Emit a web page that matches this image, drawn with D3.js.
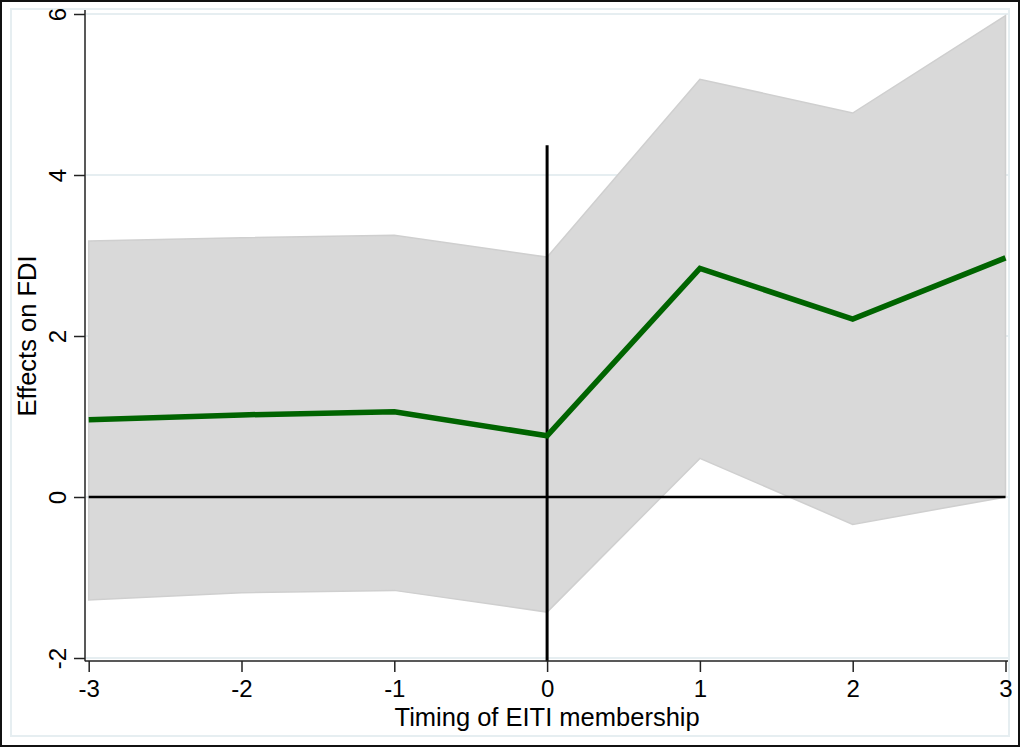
<!DOCTYPE html>
<html>
<head>
<meta charset="utf-8">
<script src="https://cdn.jsdelivr.net/npm/d3@7"></script>
<style>
  body { margin: 0; background: #fff; }
  text { font-family: "Liberation Sans", Arial, sans-serif; fill: #000; }
</style>
</head>
<body>
<svg id="chart" width="1020" height="747"></svg>
<script>
// event time relative to EITI membership
const timing = [-3, -2, -1, 0, 1, 2, 3];
const effect = [0.96, 1.02, 1.06, 0.76, 2.84, 2.21, 2.97];
const upper = [3.18, 3.22, 3.25, 2.98, 5.19, 4.77, 5.98];
const lower = [-1.28, -1.19, -1.16, -1.43, 0.48, -0.34, 0.0];
const yTicks = [-2, 0, 2, 4, 6];
const vlineRange = [-2.04, 4.37];

const svg = d3.select("#chart");
const W = 1020, H = 747;

// outer frame + graph region
svg.append("rect").attr("x", 1).attr("y", 1).attr("width", W - 2).attr("height", H - 2)
    .attr("fill", "#fff").attr("stroke", "#111").attr("stroke-width", 2);
svg.append("rect").attr("x", 11).attr("y", 9).attr("width", 998).attr("height", 727)
    .attr("fill", "none").attr("stroke", "#e6eef1").attr("stroke-width", 2);

const x = d3.scaleLinear().domain([-3, 3]).range([88.7, 1005.5]);
const y = d3.scaleLinear().domain([0, 6]).range([497, 14]);

const rows = timing.map((t, i) => ({t, e: effect[i], hi: upper[i], lo: lower[i]}));

// gridlines
svg.append("g").selectAll("line").data(yTicks).enter().append("line")
    .attr("x1", 86).attr("x2", 1008)
    .attr("y1", d => y(d)).attr("y2", d => y(d))
    .attr("stroke", "#e6eef1").attr("stroke-width", 2);

// confidence band
svg.append("path").datum(rows)
    .attr("d", d3.area().x(d => x(d.t)).y0(d => y(d.lo)).y1(d => y(d.hi)))
    .attr("fill", "#d9d9d9").attr("stroke", "#cfcfcf").attr("stroke-width", 1.5);

// reference lines
svg.append("line")
    .attr("x1", x(-3)).attr("x2", x(3)).attr("y1", y(0)).attr("y2", y(0))
    .attr("stroke", "#000").attr("stroke-width", 2.5);
svg.append("line")
    .attr("x1", x(0)).attr("x2", x(0)).attr("y1", y(vlineRange[0])).attr("y2", y(vlineRange[1]))
    .attr("stroke", "#000").attr("stroke-width", 3);

// estimate line
svg.append("path").datum(rows)
    .attr("d", d3.line().x(d => x(d.t)).y(d => y(d.e)))
    .attr("fill", "none").attr("stroke", "#006400").attr("stroke-width", 5.5)
    .attr("stroke-linejoin", "miter");

const fmt = d => String(d);

// y axis
const yAxis = svg.append("g").attr("transform", "translate(85,0)")
    .call(d3.axisLeft(y).tickValues(yTicks).tickSize(11).tickPadding(0).tickFormat(fmt));
yAxis.select(".domain").attr("d", "M0," + (y(-2.04)) + "V" + 10).attr("stroke", "#222").attr("stroke-width", 1.5);
yAxis.selectAll(".tick line").attr("stroke", "#222").attr("stroke-width", 1.5);
yAxis.selectAll(".tick text")
    .attr("x", 0).attr("y", 0).attr("dy", "0.36em")
    .attr("transform", "translate(-28,0) rotate(-90)")
    .attr("text-anchor", "middle")
    .style("font-size", "24px").style("font-family", "Liberation Sans, Arial, sans-serif");

// x axis
const xAxis = svg.append("g").attr("transform", "translate(0,661)")
    .call(d3.axisBottom(x).tickValues(timing).tickSize(11).tickPadding(8).tickFormat(fmt));
xAxis.select(".domain").attr("d", "M85,0H1008").attr("stroke", "#222").attr("stroke-width", 1.5);
xAxis.selectAll(".tick line").attr("stroke", "#222").attr("stroke-width", 1.5);
xAxis.selectAll(".tick text")
    .style("font-size", "24px").style("font-family", "Liberation Sans, Arial, sans-serif");

// axis titles
svg.append("text").attr("x", x(0)).attr("y", 726).attr("text-anchor", "middle")
    .style("font-size", "25.5px").text("Timing of EITI membership");
svg.append("text").attr("transform", "translate(36," + y(2.0) + ") rotate(-90)")
    .attr("text-anchor", "middle").style("font-size", "25.5px").text("Effects on FDI");
</script>
</body>
</html>
